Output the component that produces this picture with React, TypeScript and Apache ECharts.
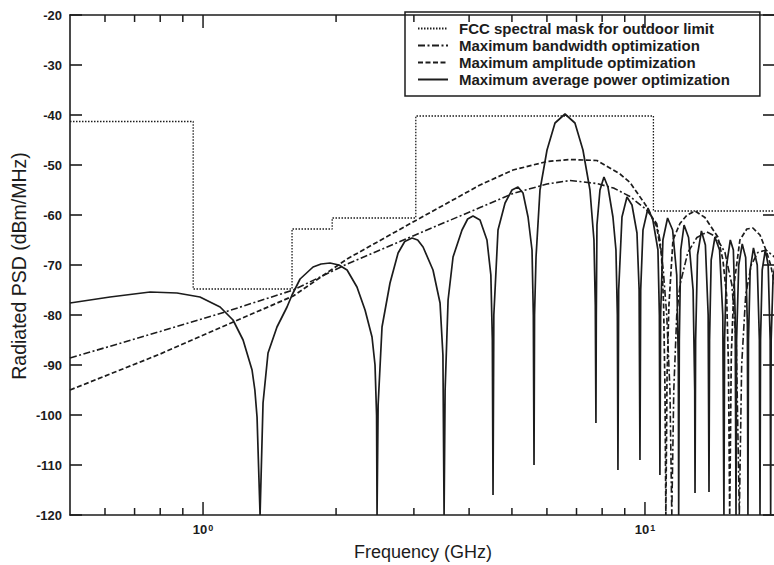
import React, { useEffect, useRef } from "react";
import * as echarts from "echarts";

// ---------- data ----------
const seriesNames = [
  "FCC spectral mask for outdoor limit",
  "Maximum bandwidth optimization",
  "Maximum amplitude optimization",
  "Maximum average power optimization",
];

// FCC outdoor mask: level holds from each frequency to the next one
const maskFreqGHz = [0.5, 0.95, 1.59, 1.96, 3.03, 10.45, 20];
const maskLevelDbm = [-41.3, -74.8, -62.8, -60.6, -40.2, -59.2, -59.2];

// dash-dot curve
const bandwidthOpt: number[][] = [
  [0.5, -88.6], [0.8, -83.3], [1.13, -79.3], [1.6, -75], [2.118, -69.8],
  [2.986, -64.2], [4.234, -58.5], [5.028, -55.7], [6.003, -53.8], [6.767, -53.1],
  [7.77, -53.7], [8.49, -54.6], [9.25, -56.3], [10.09, -59], [10.63, -61.7],
  [10.81, -65], [11.0, -71], [11.2, -80], [11.39, -95], [11.5, -120],
  [11.62, -95], [11.8, -80], [12.0, -74], [12.5, -67.5], [13.11, -64.5],
  [13.81, -63.4], [14.47, -64.3], [15.17, -67.5], [15.73, -74], [16.1, -86],
  [16.35, -120], [16.55, -90], [16.9, -76], [17.4, -70], [18.0, -67.5],
  [18.8, -67], [20, -69],
];

// dashed curve
const amplitudeOpt: number[][] = [
  [0.5, -95], [0.8, -87.8], [1.13, -82], [1.6, -76.2], [2.118, -68.8],
  [2.986, -61.4], [4.234, -54], [5.028, -51], [6.003, -49.3], [6.767, -48.9],
  [7.787, -49.1], [8.78, -51.8], [9.25, -53.5], [10.09, -58.3], [10.63, -62.3],
  [10.9, -68], [11.02, -78], [11.1, -95], [11.15, -120], [11.22, -92],
  [11.33, -78], [11.57, -65], [12.0, -61.7], [12.45, -60], [12.98, -59.2],
  [13.67, -60.5], [14.62, -64.4], [15.01, -69], [15.3, -76], [15.45, -90],
  [15.55, -120], [15.68, -88], [15.9, -74], [16.4, -65], [17.0, -62.8],
  [17.55, -62.6], [18.21, -64], [18.78, -67], [19.25, -70], [20, -77],
];

// solid curve
const avgPowerOpt: number[][] = [
  [0.5, -77.6], [0.616, -76.4], [0.759, -75.4], [0.873, -75.6], [0.984, -76.4],
  [1.093, -78.4], [1.169, -81], [1.232, -85], [1.291, -91], [1.31, -95],
  [1.325, -100.4], [1.346, -120],
  [1.367, -97.6], [1.403, -87.6], [1.47, -82.4], [1.549, -78.4], [1.59, -76],
  [1.658, -72.8], [1.774, -70.4], [1.85, -69.8], [1.938, -69.6], [2.03, -70],
  [2.118, -71], [2.23, -74.4], [2.326, -79], [2.412, -84.4], [2.45, -90],
  [2.47, -100], [2.476, -120],
  [2.49, -98], [2.541, -82.4], [2.649, -73.6], [2.763, -67.6], [2.86, -65.3],
  [2.971, -64.6], [3.06, -65], [3.147, -66.4], [3.314, -71], [3.438, -77.6],
  [3.49, -88], [3.511, -120],
  [3.53, -95], [3.585, -77], [3.679, -68.4], [3.855, -63], [3.97, -60.8],
  [4.082, -60.2], [4.234, -61], [4.39, -65], [4.48, -72], [4.515, -85],
  [4.531, -116],
  [4.55, -80], [4.65, -63], [4.824, -57.6], [5.002, -55], [5.16, -54.4],
  [5.297, -55.6], [5.438, -60.4], [5.552, -67], [5.59, -80], [5.61, -110],
  [5.625, -80], [5.669, -68.4], [5.787, -55], [6.003, -47], [6.258, -41.6],
  [6.592, -39.8], [6.943, -41.6], [7.239, -47], [7.508, -55], [7.666, -65],
  [7.72, -78], [7.746, -101.6],
  [7.76, -80], [7.787, -62], [7.91, -55], [8.076, -52.4], [8.246, -54.4],
  [8.463, -60.4], [8.597, -67], [8.66, -80], [8.687, -111],
  [8.72, -75], [8.871, -60.4], [9.105, -56.4], [9.346, -58], [9.592, -63.6],
  [9.7, -75], [9.743, -109],
  [9.78, -75], [9.897, -63], [10.16, -58.6], [10.42, -61], [10.7, -67],
  [10.78, -80], [10.81, -112],
  [10.85, -80], [10.98, -65], [11.25, -60.6], [11.55, -63], [11.8, -72],
  [11.9, -90], [11.92, -120],
  [11.96, -85], [12.05, -67], [12.26, -62], [12.55, -64.5], [12.85, -75],
  [12.96, -95], [12.98, -115.6],
  [13.02, -85], [13.15, -68], [13.42, -63.2], [13.7, -66], [13.9, -80],
  [13.96, -115.4],
  [14.0, -85], [14.12, -69], [14.4, -64.4], [14.75, -67], [15.0, -80],
  [15.09, -120],
  [15.14, -85], [15.3, -70], [15.6, -65], [15.85, -67], [16.0, -80],
  [16.07, -120],
  [16.12, -85], [16.3, -70], [16.6, -65.8], [16.9, -68.5], [17.05, -82],
  [17.1, -120],
  [17.15, -85], [17.3, -71], [17.6, -66.6], [17.95, -70], [18.15, -85],
  [18.21, -120],
  [18.26, -85], [18.42, -71], [18.72, -67], [19.0, -70], [19.2, -85],
  [19.25, -120],
  [19.3, -85], [19.5, -72], [20, -68],
];

// axes
const xMin = 0.5;
const xMax = 20;
const yMin = -120;
const yMax = -20;
const yStep = 10;
const xTickValues = [0.6, 0.7, 0.8, 0.9, 1, 2, 3, 4, 5, 6, 7, 8, 9, 10, 20];
const xMajorTicks = [1, 10];
const xDecadeBase = "10";
const xDecadeExponents = ["0", "1"];
const xTitle = "Frequency (GHz)";
const yTitle = "Radiated PSD (dBm/MHz)";

const INK = "#1c1c1c";
const FONT = "Liberation Sans, Arial, Helvetica, sans-serif";
const isMajor = (v: number) => xMajorTicks.some((d) => Math.abs(d - v) < 1e-9);

// chart canvas is a little wider than the page so the right frame sits just off-page
const CHART_W = 790;
const CHART_H = 565;
const GRID = { left: 70, right: 12, top: 15, bottom: 50 };

export default function App() {
  const ref = useRef<HTMLDivElement>(null);

  useEffect(() => {
    if (!ref.current) return;
    const chart = echarts.init(ref.current, undefined, { renderer: "svg" });

    const lineSeries = (name: string, data: number[][], width: number, type: any, extra: any = {}) => ({
      name,
      type: "line",
      data,
      symbol: "none",
      showSymbol: false,
      silent: true,
      clip: true,
      lineStyle: { color: INK, width, type },
      itemStyle: { color: INK },
      z: 3,
      ...extra,
    });

    const option: any = {
      animation: false,
      backgroundColor: "#ffffff",
      grid: { ...GRID, containLabel: false },
      xAxis: [
        {
          type: "log",
          logBase: 10,
          min: xMin,
          max: xMax,
          position: "bottom",
          axisLine: { show: true, lineStyle: { color: INK, width: 1.6 } },
          axisTick: { show: false },
          splitLine: { show: false },
          axisLabel: {
            show: true,
            margin: 8,
            showMinLabel: false,
            showMaxLabel: false,
            formatter: (v: number) => {
              const i = xMajorTicks.findIndex((d) => Math.abs(d - v) < 1e-6 * d);
              return i < 0 ? "" : `{base|${xDecadeBase}}{exp|${xDecadeExponents[i]}}`;
            },
            rich: {
              base: { fontSize: 13, fontWeight: "bold", fontFamily: FONT, color: INK, lineHeight: 13, verticalAlign: "bottom" },
              exp: { fontSize: 9, fontWeight: "bold", fontFamily: FONT, color: INK, lineHeight: 9, verticalAlign: "top", padding: [0, 0, 0, 1] },
            },
          },
        },
        {
          type: "log",
          logBase: 10,
          min: xMin,
          max: xMax,
          position: "top",
          axisLine: { show: true, lineStyle: { color: INK, width: 1.6 } },
          axisTick: { show: false },
          axisLabel: { show: false },
          splitLine: { show: false },
        },
      ],
      yAxis: [
        {
          type: "value",
          min: yMin,
          max: yMax,
          interval: yStep,
          position: "left",
          axisLine: { show: true, lineStyle: { color: INK, width: 1.6 } },
          axisTick: { show: true, inside: true, length: 12, lineStyle: { color: INK, width: 1.6 } },
          splitLine: { show: false },
          axisLabel: { margin: 8, fontSize: 13, fontWeight: "bold", fontFamily: FONT, color: INK },
        },
        {
          type: "value",
          min: yMin,
          max: yMax,
          interval: yStep,
          position: "right",
          axisLine: { show: true, lineStyle: { color: INK, width: 1.6 } },
          axisTick: { show: true, inside: true, length: 15, lineStyle: { color: INK, width: 1.6 } },
          splitLine: { show: false },
          axisLabel: { show: false },
        },
      ],
      legend: {
        data: seriesNames,
        orient: "vertical",
        left: 405,
        top: 12,
        padding: [9, 30, 9, 12],
        itemWidth: 30,
        itemHeight: 14,
        itemGap: 2,
        borderColor: INK,
        borderWidth: 1.5,
        backgroundColor: "transparent",
        selectedMode: false,
        itemStyle: { opacity: 0 },
        textStyle: { fontFamily: FONT, fontWeight: "bold", fontSize: 15, lineHeight: 14, color: INK, padding: [0, 0, 0, 6] },
      },
      graphic: [
        {
          type: "text",
          x: 19,
          y: 266,
          rotation: Math.PI / 2,
          silent: true,
          style: { text: yTitle, fontSize: 19.5, fontFamily: FONT, fill: INK, align: "center", verticalAlign: "middle" },
        },
        {
          type: "text",
          x: 423,
          y: 552,
          silent: true,
          style: { text: xTitle, fontSize: 18, fontFamily: FONT, fill: INK, align: "center", verticalAlign: "middle" },
        },
      ],
      series: [
        lineSeries(seriesNames[0], maskFreqGHz.map((f, i) => [f, maskLevelDbm[i]]), 1.3, [1.5, 1.5], { step: "end" }),
        lineSeries(seriesNames[1], bandwidthOpt, 1.6, [7, 2.5, 2, 2.5]),
        lineSeries(seriesNames[2], amplitudeOpt, 1.7, [5, 2.5]),
        lineSeries(seriesNames[3], avgPowerOpt, 1.7, "solid"),
        {
          // log-axis tick marks on bottom and top frame; anchored mid-plot, drawn at the frame
          type: "custom",
          z: 6,
          data: xTickValues.map((v) => [v, (yMin + yMax) / 2]),
          renderItem: (_params: any, api: any) => {
            const v = api.value(0);
            const len = isMajor(v) ? 13 : 7;
            const pb = api.coord([v, yMin]);
            const pt = api.coord([v, yMax]);
            return {
              type: "group",
              children: [
                { type: "rect", shape: { x: pb[0] - 0.75, y: pb[1] - len, width: 1.5, height: len }, style: { fill: INK } },
                { type: "rect", shape: { x: pt[0] - 0.75, y: pt[1], width: 1.5, height: len }, style: { fill: INK } },
              ],
            };
          },
        },
      ],
    };

    chart.setOption(option);
    return () => chart.dispose();
  }, []);

  return (
    <div style={{ position: "fixed", left: 0, top: 0, width: 774, height: 565, overflow: "hidden", background: "#fff" }}>
      <div ref={ref} style={{ width: CHART_W, height: CHART_H }} />
    </div>
  );
}
